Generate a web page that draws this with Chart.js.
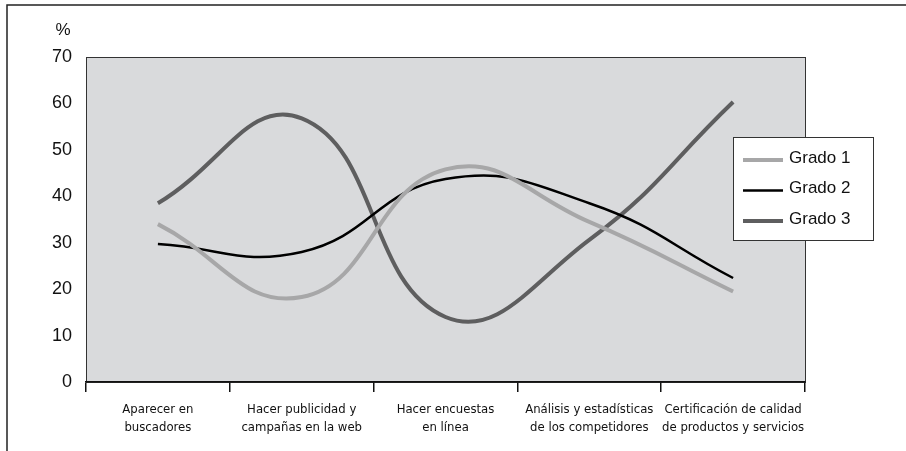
<!DOCTYPE html>
<html>
<head>
<meta charset="utf-8">
<script src="https://cdn.jsdelivr.net/npm/chart.js@4/dist/chart.umd.min.js"></script>
<style>
    html, body { margin: 0; padding: 0; background: #ffffff; }
    #wrap { width: 906px; height: 451px; position: relative; }
</style>
</head>
<body>
<div id="wrap"><canvas id="diagram" width="906" height="451"></canvas></div>
<script type="text/javascript">
    // categories along the x axis (two lines each)
    var categories = [
        ["Aparecer en", "buscadores"],
        ["Hacer publicidad y", "campañas en la web"],
        ["Hacer encuestas", "en línea"],
        ["Análisis y estadísticas", "de los competidores"],
        ["Certificación de calidad", "de productos y servicios"]
    ];
    var grado1 = [34, 18.3, 45.8, 34.5, 19.5];
    var grado2 = [29.7, 28, 43.7, 38.5, 22.4];
    var grado3 = [38.5, 56.8, 14, 30.6, 60.3];
    var seriesNames = ["Grado 1", "Grado 2", "Grado 3"];
    var yTicks = [0, 10, 20, 30, 40, 50, 60, 70];

    var lineFont = "'Liberation Sans', Arial, sans-serif";
    var narrowFont = "'DejaVu Sans', sans-serif";

    // grey plot area, outer frame and the "%" label
    var plotBackground = {
        id: 'plotBackground',
        beforeDraw: function(chart) {
            var ctx = chart.ctx;
            var a = chart.chartArea;
            ctx.save();
            ctx.strokeStyle = '#222';
            ctx.lineWidth = 1.5;
            ctx.beginPath();
            ctx.moveTo(7, 451);
            ctx.lineTo(7, 5);
            ctx.lineTo(906, 5);
            ctx.stroke();

            ctx.fillStyle = '#d9dadc';
            ctx.fillRect(a.left, a.top, a.right - a.left, a.bottom - a.top);
            ctx.lineWidth = 1;
            ctx.strokeStyle = '#333';
            ctx.strokeRect(a.left + 0.5, a.top + 0.5, a.right - a.left, a.bottom - a.top);

            ctx.fillStyle = '#111';
            ctx.font = "17px " + lineFont;
            ctx.textAlign = 'center';
            ctx.textBaseline = 'middle';
            ctx.fillText('%', 63, 30);
            ctx.restore();
        }
    };

    // legend box sitting over the right edge of the plot
    var boxLegend = {
        id: 'boxLegend',
        afterDraw: function(chart) {
            var ctx = chart.ctx;
            var x = 733, y = 137, w = 140, h = 103;
            ctx.save();
            ctx.fillStyle = '#ffffff';
            ctx.fillRect(x, y, w, h);
            ctx.strokeStyle = '#333';
            ctx.lineWidth = 1;
            ctx.strokeRect(x + 0.5, y + 0.5, w, h);
            ctx.font = "17px " + lineFont;
            ctx.textBaseline = 'middle';
            ctx.textAlign = 'left';
            chart.data.datasets.forEach(function(ds, i) {
                var cy = y + 21 + i * 30.5;
                ctx.strokeStyle = ds.borderColor;
                ctx.lineWidth = ds.borderWidth;
                ctx.beginPath();
                ctx.moveTo(743, cy + 2);
                ctx.lineTo(783, cy + 2);
                ctx.stroke();
                ctx.fillStyle = '#111';
                ctx.fillText(ds.label, 789, cy);
            });
            ctx.restore();
        }
    };

    var myChart = new Chart(document.getElementById('diagram'), {
        type: 'line',
        data: {
            labels: categories,
            datasets: [
                { label: seriesNames[0], data: grado1, borderColor: '#a7a7a8', borderWidth: 4 },
                { label: seriesNames[1], data: grado2, borderColor: '#000000', borderWidth: 2.5 },
                { label: seriesNames[2], data: grado3, borderColor: '#5e5e5f', borderWidth: 4 }
            ]
        },
        options: {
            responsive: false,
            animation: false,
            events: [],
            elements: {
                line: { tension: 0.45, fill: false, borderCapStyle: 'butt' },
                point: { radius: 0 }
            },
            layout: { padding: { left: 0, top: 57, right: 101, bottom: 0 } },
            plugins: {
                legend: { display: false },
                tooltip: { enabled: false }
            },
            scales: {
                x: {
                    offset: true,
                    grid: {
                        offset: true,
                        drawOnChartArea: false,
                        color: '#111',
                        tickLength: 10,
                        lineWidth: 1.5
                    },
                    border: { display: true, color: '#111', width: 1.5 },
                    ticks: {
                        color: '#111',
                        maxRotation: 0,
                        autoSkip: false,
                        padding: 9,
                        // "condensed" goes into the canvas font string as font-stretch
                        font: { family: narrowFont, size: 13, weight: 'condensed', lineHeight: 1.35 }
                    },
                    afterFit: function(scale) { scale.height = 69; }
                },
                y: {
                    min: 0,
                    max: 70,
                    afterBuildTicks: function(scale) {
                        scale.ticks = yTicks.map(function(v) { return { value: v }; });
                    },
                    grid: { display: false, drawTicks: false },
                    border: { display: false },
                    ticks: {
                        color: '#111',
                        padding: 14,
                        font: { family: lineFont, size: 18 }
                    },
                    afterFit: function(scale) { scale.width = 86; }
                }
            }
        },
        plugins: [plotBackground, boxLegend]
    });
</script>
</body>
</html>
